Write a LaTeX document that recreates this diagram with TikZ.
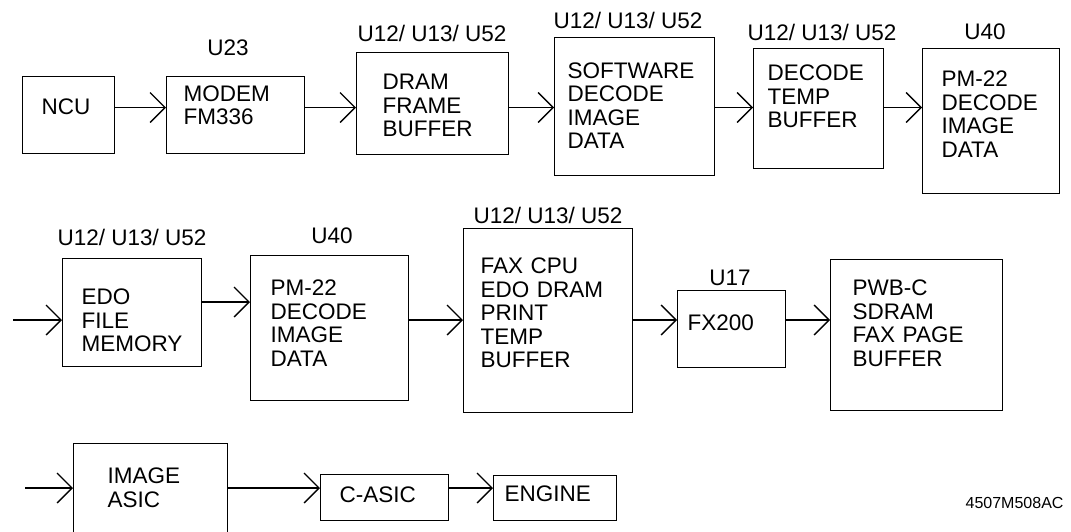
\documentclass[tikz,border=0pt]{standalone}
\usepackage{fontspec}
\setmainfont{Liberation Sans}
\usetikzlibrary{arrows.meta}
\hyphenpenalty=10000
\exhyphenpenalty=10000

\begin{document}
\begin{tikzpicture}[x=1pt, y=-1pt, line width=1.3pt,
	every node/.style={font=\fontsize{22.5}{23.5}\selectfont, inner sep=0pt},
	blk/.style n args={4}{draw, anchor=north west, align=left, inner xsep=#1, text width=#2, text height=#3, text depth=#4},
	arr/.style={-{Straight Barb[length=15pt, width=30pt]}}]
	\useasboundingbox (0,0) rectangle (1071,531);
	% rows where the arrows run
	\coordinate (r1) at (0,107.5);
	\coordinate (r2) at (0,320);
	\coordinate (r2e) at (0,302);
	\coordinate (r3) at (0,488);
	\coordinate (in2) at (13,320);
	\coordinate (in3) at (25,488);
	% first row
	\node[blk={19pt}{54pt}{38pt}{39pt}] (ncu) at (22,76) {NCU};
	\node[blk={17pt}{104pt}{24.7pt}{52.3pt}] (modem) at (166,76) {MODEM\\FM336};
	\node[blk={26pt}{100pt}{37.3pt}{64.7pt}] (dram) at (356,52) {DRAM\\FRAME\\BUFFER};
	\node[blk={13pt}{134pt}{40.7pt}{97.3pt}] (soft) at (554,37) {SOFTWARE\\DECODE\\IMAGE\\DATA};
	\node[blk={14pt}{102pt}{32pt}{88pt}] (dect) at (753,48) {DECODE\\TEMP\\BUFFER};
	\node[blk={19pt}{99pt}{38pt}{107pt}] (pma) at (922,48) {PM-22\\DECODE\\IMAGE\\DATA};
	\node (lmodem) at (228,48) {U23};
	\node (ldram) at (432,33) {U12/ U13/ U52};
	\node (lsoft) at (628,20) {U12/ U13/ U52};
	\node (ldect) at (822,32) {U12/ U13/ U52};
	\node (lpma) at (985,32) {U40};
	\foreach \a/\b in {ncu/modem, modem/dram, dram/soft, soft/dect, dect/pma}
		\draw[arr] (\a.east |- r1) -- (\b.west |- r1);
	% second row
	\node[blk={19pt}{101pt}{46pt}{62pt}] (edo) at (62,258) {EDO\\FILE\\MEMORY};
	\node[blk={20pt}{118pt}{40pt}{105pt}] (pmb) at (250,255) {PM-22\\DECODE\\IMAGE\\DATA};
	\node[blk={17pt}{135pt}{45.3pt}{138.7pt}] (fax) at (463,228) {FAX CPU\\EDO DRAM\\PRINT\\TEMP\\BUFFER};
	\node[blk={10pt}{88pt}{40pt}{37pt}] (fx) at (677,290) {FX200};
	\node[blk={22pt}{128pt}{36pt}{115pt}] (pwb) at (830,259) {PWB-C\\SDRAM\\FAX PAGE\\BUFFER};
	\node (ledo) at (132,237) {U12/ U13/ U52};
	\node (lpmb) at (332,236) {U40};
	\node (lfax) at (548,215) {U12/ U13/ U52};
	\node (lfx) at (730,278) {U17};
	\draw[arr] (in2) -- (edo.west |- in2);
	\draw[arr] (edo.east |- r2e) -- (pmb.west |- r2e);
	\foreach \a/\b in {pmb/fax, fax/fx, fx/pwb}
		\draw[arr] (\a.east |- r2) -- (\b.west |- r2);
	% third row
	\node[blk={34pt}{86pt}{40.3pt}{52.7pt}] (ias) at (73,443) {IMAGE\\ASIC};
	\node[blk={19pt}{90pt}{27.7pt}{18.3pt}] (cas) at (320,474) {C-ASIC};
	\node[blk={11pt}{101pt}{25.7pt}{19.3pt}] (eng) at (493,475) {ENGINE};
	\draw[arr] (in3) -- (ias.west |- in3);
	\foreach \a/\b in {ias/cas, cas/eng}
		\draw[arr] (\a.east |- r3) -- (\b.west |- r3);
	\node[font=\fontsize{16}{16}\selectfont, anchor=west] (code) at (965,503) {4507M508AC};
\end{tikzpicture}
\end{document}
